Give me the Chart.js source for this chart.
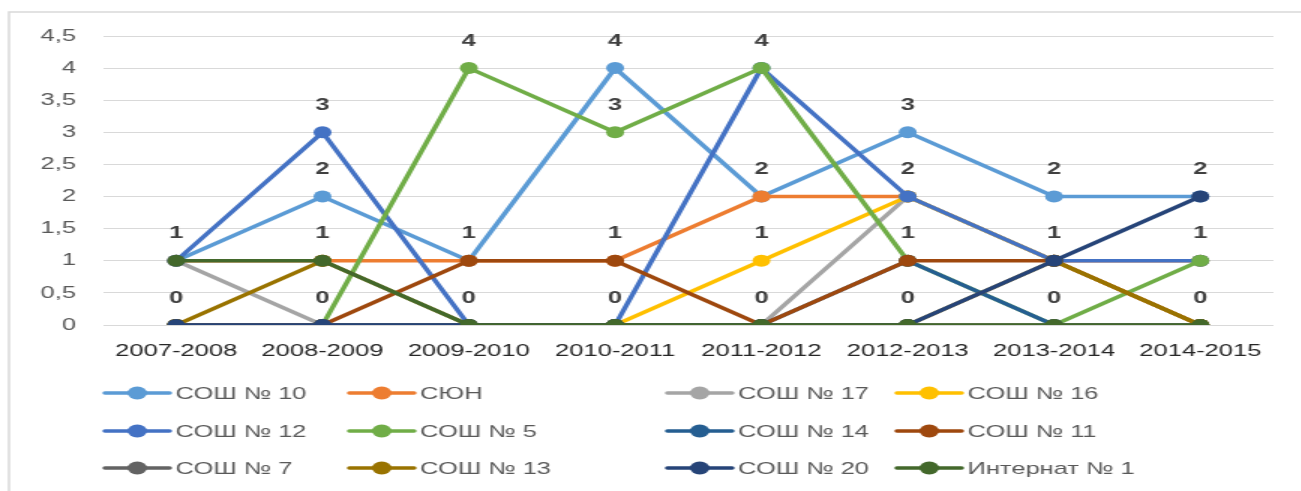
<!DOCTYPE html>
<html>
<head>
<meta charset="utf-8">
<script src="https://cdn.jsdelivr.net/npm/chart.js@4.4.1/dist/chart.umd.min.js"></script>
<style>
  html, body { margin: 0; padding: 0; background: #fff; overflow: hidden; }
  /* the source picture is a horizontally stretched chart, so stretch ours the same way */
  #wrap { position: absolute; left: 0; top: 0; width: 867px; height: 491px; transform: scaleX(1.5); transform-origin: 0 0; }
</style>
</head>
<body>
<div id="wrap"><canvas id="myChart"></canvas></div>
<script>
var years = ['2007-2008', '2008-2009', '2009-2010', '2010-2011', '2011-2012', '2012-2013', '2013-2014', '2014-2015'];

var sosh10    = [1, 2, 1, 4, 2, 3, 2, 2];
var syun      = [1, 1, 1, 1, 2, 2, 1, 1];
var sosh17    = [1, 0, 0, 0, 0, 2, 1, 0];
var sosh16    = [0, 0, 0, 0, 1, 2, 1, 0];
var sosh12    = [1, 3, 0, 0, 4, 2, 1, 1];
var sosh5     = [0, 0, 4, 3, 4, 1, 0, 1];
var sosh14    = [0, 0, 0, 0, 0, 1, 0, 0];
var sosh11    = [0, 0, 1, 1, 0, 1, 1, 0];
var sosh7     = [0, 0, 0, 0, 0, 0, 0, 0];
var sosh13    = [0, 1, 0, 0, 0, 0, 1, 0];
var sosh20    = [0, 0, 0, 0, 0, 0, 1, 2];
var internat1 = [1, 1, 0, 0, 0, 0, 0, 0];

var seriesNames = ['СОШ № 10', 'СЮН', 'СОШ № 17', 'СОШ № 16', 'СОШ № 12', 'СОШ № 5',
                   'СОШ № 14', 'СОШ № 11', 'СОШ № 7', 'СОШ № 13', 'СОШ № 20', 'Интернат № 1'];
var seriesValues = [sosh10, syun, sosh17, sosh16, sosh12, sosh5, sosh14, sosh11, sosh7, sosh13, sosh20, internat1];
var seriesColors = ['#5B9BD5', '#ED7D31', '#A5A5A5', '#FFC000', '#4472C4', '#70AD47',
                    '#255E91', '#9E480E', '#636363', '#997300', '#264478', '#43682B'];

var yTicks = [0, 0.5, 1, 1.5, 2, 2.5, 3, 3.5, 4, 4.5];

var FONT = '"Liberation Sans", Arial, sans-serif';

document.addEventListener('DOMContentLoaded', function () {
    var ctx = document.getElementById('myChart').getContext('2d');

    var datasets = seriesNames.map(function (name, i) {
        return {
            label: name,
            data: seriesValues[i],
            borderColor: seriesColors[i],
            backgroundColor: seriesColors[i],
            pointBorderColor: seriesColors[i],
            pointBackgroundColor: seriesColors[i],
            borderWidth: 3.5,
            pointRadius: 6,
            pointHoverRadius: 6,
            pointBorderWidth: 0,
            tension: 0,
            order: seriesNames.length - i // later series drawn on top, like Excel
        };
    });

    // frame around the chart (only top and left edges are in view)
    var frame = {
        id: 'frame',
        beforeDraw: function (chart) {
            var c = chart.ctx;
            c.save();
            c.fillStyle = '#fff';
            c.fillRect(0, 0, chart.width, chart.height);
            c.strokeStyle = '#d9d9d9';
            c.lineWidth = 1.5;
            c.strokeRect(6, 12, chart.width + 20, chart.height + 20);
            c.restore();
        }
    };

    // value labels above points, one per distinct value per category
    var valueLabels = {
        id: 'valueLabels',
        afterDatasetsDraw: function (chart) {
            var c = chart.ctx;
            var seen = {};
            c.save();
            c.font = 'bold 17px ' + FONT;
            c.fillStyle = '#404040';
            c.textAlign = 'center';
            c.textBaseline = 'middle';
            chart.data.datasets.forEach(function (ds, di) {
                var meta = chart.getDatasetMeta(di);
                meta.data.forEach(function (pt, idx) {
                    var key = idx + '_' + ds.data[idx];
                    if (seen[key]) return;
                    seen[key] = true;
                    c.fillText(String(ds.data[idx]), pt.x, pt.y - 27);
                });
            });
            c.restore();
        }
    };

    // legend laid out in a 4-column grid
    var gridLegend = {
        id: 'gridLegend',
        afterDraw: function (chart) {
            var c = chart.ctx;
            var cols = [70, 233, 445, 598];
            var rows = [393, 431, 468];
            c.save();
            c.font = '17px ' + FONT;
            c.textBaseline = 'middle';
            c.textAlign = 'left';
            chart.data.datasets.forEach(function (ds, i) {
                var x = cols[i % 4];
                var y = rows[Math.floor(i / 4)];
                c.strokeStyle = ds.borderColor;
                c.lineWidth = 3.5;
                c.lineCap = 'round';
                c.beginPath();
                c.moveTo(x, y);
                c.lineTo(x + 43, y);
                c.stroke();
                c.fillStyle = ds.borderColor;
                c.beginPath();
                c.arc(x + 21.5, y, 6.5, 0, Math.PI * 2);
                c.fill();
                c.fillStyle = '#595959';
                c.fillText(ds.label, x + 47, y + 1);
            });
            c.restore();
        }
    };

    var myChart = new Chart(ctx, {
        type: 'line',
        data: { labels: years, datasets: datasets },
        options: {
            responsive: true,
            maintainAspectRatio: false,
            animation: false,
            layout: { padding: { left: 0, right: 18, top: 36, bottom: 126 } },
            plugins: {
                legend: { display: false },
                tooltip: { enabled: false }
            },
            scales: {
                x: {
                    offset: true,
                    grid: { display: false },
                    border: { display: false },
                    ticks: {
                        color: '#262626',
                        font: { size: 17, family: FONT },
                        padding: 8,
                        maxRotation: 0,
                        autoSkip: false
                    },
                    afterFit: function (scale) { scale.height = 40; }
                },
                y: {
                    min: 0,
                    max: 4.5,
                    afterBuildTicks: function (scale) {
                        scale.ticks = yTicks.map(function (v) { return { value: v }; });
                    },
                    ticks: {
                        color: '#595959',
                        font: { size: 17, family: FONT },
                        padding: 18,
                        callback: function (v) { return String(v).replace('.', ','); }
                    },
                    grid: { color: '#d9d9d9', lineWidth: 1, drawTicks: false },
                    border: { display: false },
                    afterFit: function (scale) { scale.width = 68.7; }
                }
            }
        },
        plugins: [frame, valueLabels, gridLegend]
    });
});
</script>
</body>
</html>
